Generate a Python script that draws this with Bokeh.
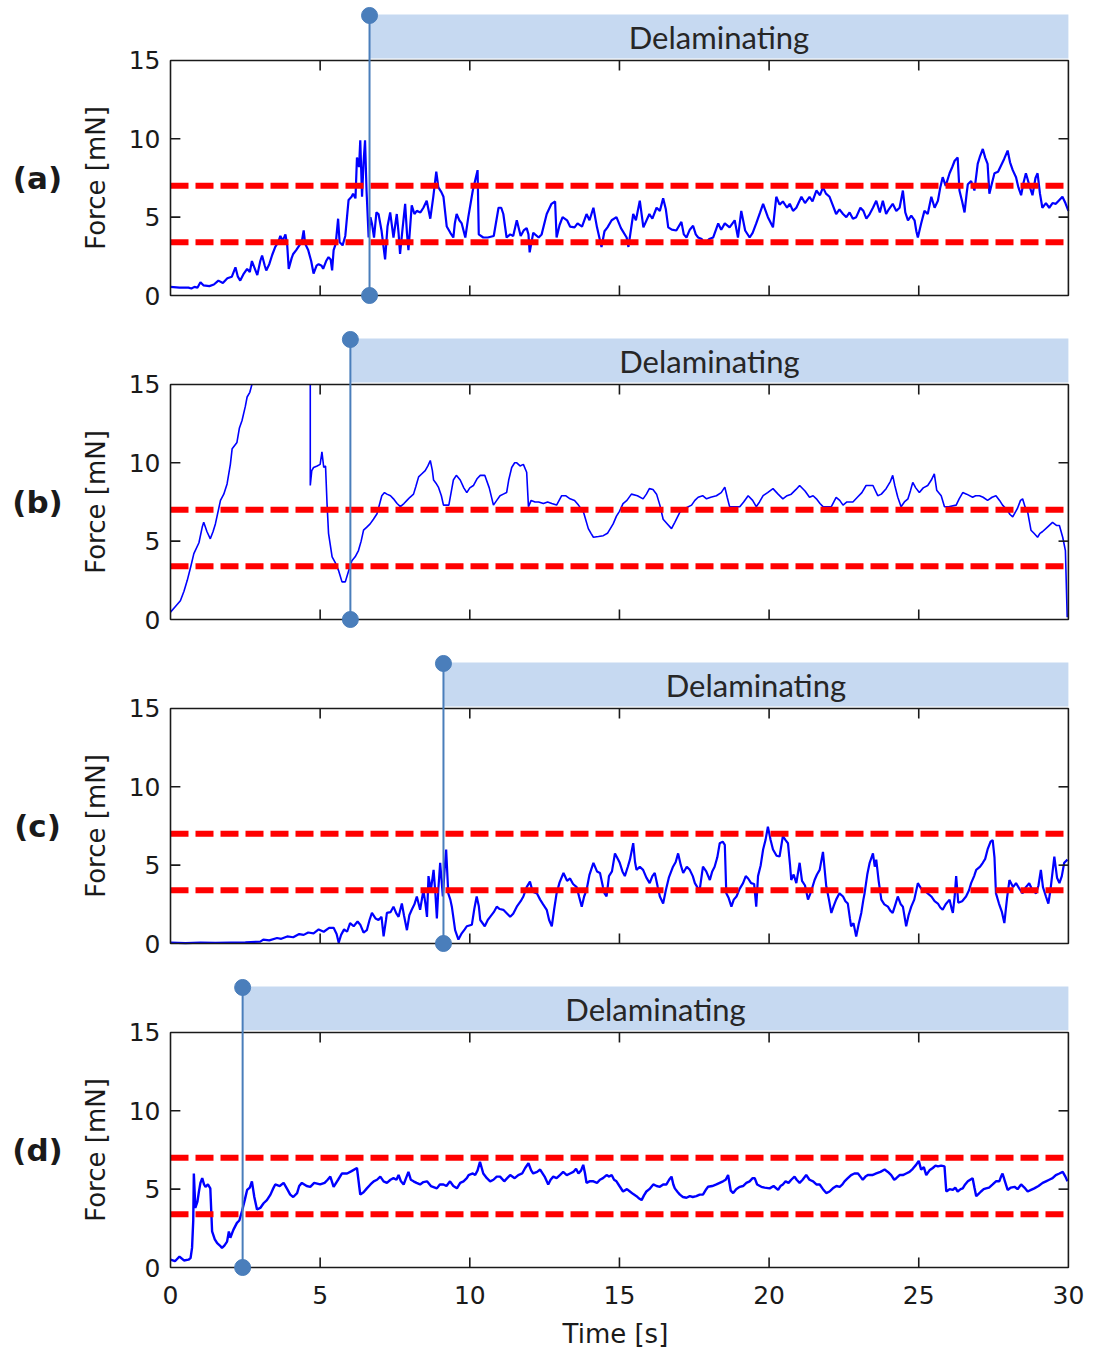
import math
from bokeh.plotting import figure
from bokeh.models import Range1d
from bokeh.layouts import column
from bokeh.embed import file_html
from bokeh.resources import INLINE
from bokeh.core.properties import value

# ---------------- data ----------------
TIME_RANGE = (0, 30)
FORCE_RANGE = (0, 15)
x_ticks = [0, 5, 10, 15, 20, 25, 30]
y_ticks = [0, 5, 10, 15]
thresholds = [7.0, 3.4]
panel_labels = ["(a)", "(b)", "(c)", "(d)"]
delam_start = [6.65, 6.01, 9.12, 2.41]
band_text = "Delaminating"
x_title = "Time [s]"
y_title = "Force [mN]"
NaN = float("nan")

a_t = [0.0,0.3,0.6,0.7,0.8,0.9,1.0,1.1,1.3,1.45,1.6,1.75,1.9,2.05,2.17,2.25,2.33,2.45,2.56,2.65,2.72,2.8,2.9,3.0,3.06,3.15,3.2,3.3,3.4,3.5,3.6,3.67,3.75,3.84,3.9,3.95,4.05,4.1,4.2,4.34,4.4,4.45,4.5,4.6,4.7,4.78,4.88,4.95,5.05,5.1,5.2,5.28,5.35,5.4,5.45,5.52,5.6,5.65,5.75,5.84,5.95,6.05,6.1,6.18,6.23,6.3,6.34,6.4,6.45,6.5,6.55,6.62,6.68,6.73,6.8,6.88,6.95,7.05,7.17,7.25,7.34,7.45,7.56,7.62,7.67,7.75,7.84,7.9,7.95,8.06,8.15,8.23,8.35,8.45,8.56,8.68,8.78,8.88,8.95,9.05,9.12,9.23,9.35,9.45,9.5,9.56,9.65,9.73,9.85,9.95,10.1,10.26,10.3,10.45,10.6,10.8,10.96,11.05,11.12,11.23,11.35,11.45,11.57,11.7,11.8,11.9,11.96,12.0,12.12,12.3,12.4,12.57,12.73,12.85,12.9,13.0,13.1,13.25,13.35,13.5,13.6,13.75,13.9,14.0,14.13,14.25,14.4,14.5,14.6,14.74,14.9,15.05,15.24,15.3,15.46,15.55,15.68,15.8,16.0,16.1,16.24,16.35,16.46,16.55,16.63,16.75,16.9,17.07,17.15,17.24,17.35,17.46,17.55,17.63,17.75,17.85,18.0,18.13,18.3,18.4,18.52,18.68,18.85,18.96,19.07,19.2,19.35,19.45,19.57,19.7,19.8,19.96,20.13,20.24,20.35,20.46,20.6,20.69,20.8,20.91,21.08,21.2,21.35,21.45,21.58,21.7,21.8,21.9,22.02,22.12,22.24,22.35,22.47,22.58,22.69,22.8,22.91,23.05,23.15,23.25,23.36,23.47,23.58,23.7,23.8,23.91,24.0,24.13,24.25,24.36,24.47,24.55,24.64,24.75,24.86,24.92,24.97,25.08,25.19,25.3,25.42,25.53,25.64,25.72,25.8,25.9,26.03,26.12,26.2,26.3,26.36,26.45,26.53,26.6,26.64,26.75,26.86,26.97,27.05,27.14,27.22,27.3,27.36,27.45,27.53,27.65,27.75,27.85,27.97,28.05,28.14,28.25,28.33,28.42,28.5,28.58,28.7,28.8,28.9,28.97,29.05,29.13,29.25,29.36,29.47,29.58,29.7,29.8,29.9,30.0]
a_f = [0.55,0.5,0.5,0.45,0.55,0.5,0.85,0.65,0.6,0.7,0.95,0.8,1.1,1.2,1.8,1.2,0.95,1.4,1.7,1.5,2.2,1.8,1.3,2.2,2.55,1.9,1.6,2.0,2.6,3.1,3.4,3.8,3.5,3.9,3.2,1.7,2.4,2.65,2.9,3.3,3.6,4.15,3.3,2.9,2.2,1.4,1.9,2.0,1.9,1.7,2.2,2.45,2.3,1.6,2.9,3.3,4.9,3.4,3.2,3.8,6.1,6.3,6.5,6.2,8.8,8.2,9.9,6.3,8.5,9.9,6.7,3.7,5.0,4.6,3.7,5.3,5.2,4.15,2.3,4.4,5.3,3.7,5.2,4.0,2.65,4.2,5.85,4.0,2.9,5.75,5.2,5.4,5.3,5.6,6.05,4.9,6.3,7.9,6.9,6.6,6.3,4.4,4.0,3.7,4.6,5.2,4.8,4.6,3.7,5.0,6.7,8.0,3.9,3.7,3.7,3.8,5.6,5.6,5.2,3.7,3.9,3.8,4.8,3.8,4.15,4.3,3.9,2.75,4.0,3.7,3.9,5.2,5.85,6.0,3.7,4.5,5.0,4.8,4.4,4.35,4.6,4.4,5.2,4.8,5.6,4.35,3.1,4.1,4.35,4.8,5.0,4.3,3.7,3.1,5.2,4.8,6.05,4.35,5.2,4.9,5.6,5.4,6.2,5.5,4.35,4.2,4.15,4.7,3.9,3.7,4.2,4.45,3.9,3.7,3.6,3.3,3.6,3.7,4.6,4.2,4.6,4.35,4.8,3.7,5.4,4.15,3.7,4.0,4.6,5.3,5.85,5.0,4.35,6.3,5.8,6.0,5.6,5.85,5.4,5.6,6.3,5.9,6.3,6.0,6.7,6.4,6.9,6.5,6.3,5.8,5.2,5.5,5.2,5.0,5.3,4.9,5.0,5.6,5.4,4.9,5.2,5.6,6.05,5.3,6.05,5.2,5.5,5.85,5.4,5.6,6.7,5.3,4.8,5.1,4.8,4.1,3.7,4.6,5.4,5.2,6.3,5.6,6.05,6.9,7.55,7.0,7.8,8.2,8.6,8.8,6.7,6.0,5.3,6.5,7.1,7.3,6.7,8.4,8.9,9.35,8.8,8.4,6.5,7.2,7.8,7.9,8.3,8.7,9.25,8.5,8.0,7.55,6.9,6.4,7.2,7.8,7.0,6.4,7.5,7.8,6.5,5.6,5.9,5.6,5.9,5.85,6.1,6.3,5.9,5.4]

b_t = [0.0,0.15,0.33,0.45,0.56,0.68,0.78,0.95,1.06,1.11,1.22,1.33,1.42,1.5,1.67,1.78,1.89,2.0,2.06,2.22,2.3,2.39,2.5,2.56,2.65,2.72,3.7,4.67,4.67,4.72,4.78,4.9,5.0,5.06,5.12,5.18,5.23,5.28,5.4,5.5,5.62,5.73,5.84,5.95,6.06,6.17,6.28,6.37,6.45,6.56,6.67,6.78,6.9,7.06,7.15,7.23,7.35,7.45,7.57,7.68,7.8,7.9,8.0,8.12,8.2,8.29,8.4,8.51,8.6,8.68,8.75,8.79,8.87,8.95,9.05,9.12,9.3,9.45,9.55,9.68,9.8,9.9,10.0,10.12,10.25,10.35,10.5,10.65,10.79,10.9,11.01,11.12,11.23,11.3,11.4,11.5,11.57,11.68,11.79,11.9,11.96,12.05,12.18,12.3,12.46,12.6,12.74,12.9,13.07,13.2,13.35,13.5,13.63,13.8,13.96,14.05,14.13,14.3,14.46,14.6,14.79,14.9,15.0,15.12,15.25,15.4,15.6,15.79,15.9,16.0,16.12,16.24,16.35,16.46,16.6,16.74,16.85,17.02,17.2,17.41,17.52,17.63,17.78,17.91,18.05,18.24,18.4,18.52,18.6,18.68,18.85,19.02,19.15,19.3,19.45,19.57,19.68,19.8,19.95,20.13,20.3,20.46,20.6,20.74,20.9,21.02,21.2,21.35,21.47,21.58,21.7,21.8,22.08,22.24,22.36,22.47,22.6,22.8,22.95,23.1,23.24,23.47,23.63,23.75,23.91,24.05,24.13,24.2,24.3,24.41,24.52,24.64,24.72,24.8,24.9,25.02,25.15,25.3,25.42,25.52,25.6,25.75,25.86,26.0,26.25,26.35,26.47,26.6,26.8,26.9,27.03,27.15,27.3,27.45,27.58,27.7,27.8,27.95,28.05,28.14,28.3,28.4,28.47,28.55,28.64,28.75,28.85,28.97,29.05,29.13,29.3,29.47,29.6,29.7,29.81,29.9,29.96]
b_f = [0.47,0.8,1.2,1.8,2.5,3.4,4.2,4.9,5.9,6.2,5.6,5.15,5.6,6.1,7.6,8.0,8.65,9.9,10.9,11.3,12.2,12.7,13.6,14.2,14.5,15.0,NaN,15.0,8.55,9.5,9.7,9.8,9.9,10.7,9.7,9.8,7.4,5.5,4.0,3.65,3.1,2.4,2.4,3.1,3.75,4.0,4.4,5.0,5.7,5.9,6.1,6.4,6.75,7.9,8.1,8.0,7.9,7.7,7.4,7.2,7.4,7.6,7.8,8.0,8.5,9.1,9.3,9.5,9.8,10.15,9.5,8.9,8.7,8.45,7.9,7.3,7.3,8.9,9.2,8.9,8.4,8.1,8.4,8.55,9.0,9.2,9.2,8.4,7.3,7.6,7.9,8.0,8.1,8.9,9.7,10.0,10.0,9.8,9.9,9.4,7.2,7.6,7.5,7.5,7.4,7.5,7.4,7.3,7.9,7.9,7.7,7.6,7.3,6.85,5.8,5.5,5.25,5.3,5.35,5.5,6.1,6.6,6.9,7.4,7.6,8.0,7.9,7.7,8.0,8.35,8.3,8.0,7.3,6.4,6.1,5.8,6.2,6.85,7.1,7.3,7.6,7.8,7.9,7.7,7.8,7.9,8.1,8.45,7.8,7.2,7.2,7.2,7.5,7.9,7.6,7.2,7.5,7.9,8.1,8.35,8.0,7.7,7.9,8.0,8.3,8.55,8.2,7.8,7.9,7.7,7.4,7.2,7.2,7.8,7.6,7.3,7.5,7.5,7.8,8.1,8.55,8.55,7.9,8.0,8.35,8.8,9.2,8.55,7.8,7.2,7.5,7.7,8.2,8.75,8.4,8.1,8.4,8.55,8.9,9.3,8.25,7.9,7.2,7.2,7.3,7.7,8.1,8.0,7.8,7.9,7.9,7.8,7.6,7.8,7.9,7.6,7.3,7.0,6.7,6.55,7.1,7.6,7.7,7.2,6.85,5.7,5.5,5.25,5.5,5.6,5.9,6.2,6.0,6.0,5.25,4.4,0.15]

c_t = [0.0,0.5,1.0,1.5,2.0,2.5,3.0,3.1,3.3,3.56,3.7,3.9,4.1,4.3,4.45,4.6,4.78,4.95,5.12,5.3,5.45,5.55,5.62,5.7,5.8,5.9,6.0,6.12,6.25,6.34,6.45,6.56,6.65,6.73,6.85,6.95,7.05,7.12,7.2,7.23,7.35,7.45,7.55,7.62,7.73,7.8,7.9,7.98,8.06,8.15,8.23,8.34,8.45,8.52,8.57,8.62,8.7,8.79,8.85,8.9,8.95,9.01,9.1,9.15,9.21,9.28,9.35,9.4,9.51,9.62,9.73,9.83,9.9,10.07,10.15,10.23,10.3,10.35,10.5,10.6,10.68,10.8,10.9,11.0,11.12,11.25,11.35,11.45,11.57,11.7,11.79,11.9,12.01,12.1,12.24,12.35,12.45,12.57,12.65,12.74,12.82,12.9,13.0,13.13,13.25,13.35,13.45,13.57,13.65,13.74,13.82,13.9,14.0,14.13,14.25,14.35,14.45,14.5,14.57,14.65,14.75,14.85,14.96,15.01,15.1,15.18,15.28,15.35,15.46,15.52,15.57,15.68,15.79,15.9,16.01,16.1,16.18,16.28,16.35,16.46,16.55,16.65,16.79,16.88,16.96,17.05,17.13,17.25,17.35,17.45,17.52,17.6,17.68,17.79,17.9,18.02,18.1,18.18,18.27,18.35,18.45,18.52,18.57,18.65,18.74,18.82,18.91,19.02,19.13,19.22,19.3,19.4,19.5,19.57,19.63,19.72,19.8,19.88,19.96,20.05,20.13,20.25,20.35,20.46,20.55,20.63,20.7,20.74,20.82,20.91,21.02,21.1,21.2,21.3,21.4,21.52,21.6,21.69,21.8,21.91,22.0,22.08,22.16,22.24,22.35,22.47,22.55,22.63,22.7,22.74,22.82,22.91,23.0,23.08,23.15,23.19,23.28,23.36,23.47,23.53,23.58,23.66,23.75,23.85,23.97,24.05,24.13,24.22,24.3,24.4,24.47,24.58,24.66,24.75,24.85,24.97,25.08,25.19,25.3,25.42,25.53,25.64,25.72,25.8,25.9,26.03,26.1,26.14,26.2,26.25,26.32,26.45,26.58,26.68,26.75,26.85,26.92,27.05,27.14,27.22,27.3,27.4,27.47,27.53,27.58,27.68,27.78,27.86,27.95,28.03,28.15,28.25,28.36,28.47,28.58,28.69,28.8,28.92,29.0,29.08,29.15,29.25,29.33,29.4,29.53,29.62,29.7,29.78,29.86,29.97]
c_f = [0.05,0.03,0.05,0.04,0.06,0.08,0.12,0.25,0.2,0.35,0.3,0.45,0.4,0.6,0.55,0.7,0.65,0.9,0.75,1.0,1.0,0.6,0.05,0.55,0.9,0.75,1.3,1.1,1.4,1.2,0.7,0.85,1.5,1.95,1.6,1.5,1.7,0.45,1.5,1.95,2.0,2.35,1.9,1.7,2.55,1.8,0.85,1.8,2.15,2.5,3.0,2.15,3.4,2.5,1.7,4.3,3.4,4.7,3.2,1.6,3.5,5.15,3.0,4.5,6.0,3.2,2.8,2.35,0.85,0.25,0.65,0.9,1.1,1.2,2.2,3.0,2.4,1.5,1.1,1.5,1.7,2.0,2.35,2.2,2.15,1.9,1.7,1.9,2.35,2.7,3.0,3.6,3.95,3.3,3.2,2.8,2.5,2.15,1.5,1.1,2.2,3.2,3.9,4.5,4.0,4.15,3.8,3.6,3.0,2.35,3.0,3.4,4.4,5.15,4.6,4.5,3.6,3.2,3.0,4.3,4.6,5.75,5.35,5.15,4.6,4.3,4.9,5.35,6.4,5.2,4.7,4.9,4.7,4.2,3.85,4.3,4.5,3.6,3.0,2.55,3.4,4.2,4.9,5.2,5.75,5.0,4.5,4.9,4.7,4.3,3.85,3.6,3.4,4.9,4.6,4.05,4.6,4.9,5.5,6.4,6.5,6.3,3.2,2.9,2.35,2.8,3.0,3.5,3.85,4.3,4.15,3.85,3.8,2.35,4.3,5.0,6.0,6.6,7.45,6.6,6.0,5.6,5.55,6.85,6.6,6.4,5.0,4.05,4.4,3.85,5.15,4.0,3.7,2.8,3.3,4.05,4.4,4.7,5.85,3.65,2.8,1.95,2.4,2.8,3.2,3.0,2.7,2.55,1.6,1.1,1.3,0.45,1.3,1.95,2.8,3.2,4.4,5.15,5.75,4.9,5.35,4.0,2.8,2.5,2.35,2.1,1.95,2.5,3.0,2.5,2.35,1.1,1.8,2.35,2.8,3.85,3.5,3.4,3.2,3.0,2.7,2.55,2.3,2.15,2.5,2.8,2.2,1.95,3.0,4.3,2.6,2.7,3.0,3.4,3.85,4.3,4.7,4.9,5.15,5.4,6.0,6.5,6.6,5.5,3.2,2.55,2.0,1.3,2.9,4.05,3.6,3.85,3.5,3.2,3.6,3.85,3.4,3.2,3.7,4.7,3.6,3.0,2.55,3.4,5.55,4.2,3.85,4.3,5.15,5.35]

d_t = [0.0,0.15,0.3,0.45,0.6,0.67,0.72,0.76,0.78,0.83,0.9,0.95,1.0,1.06,1.12,1.17,1.25,1.33,1.39,1.48,1.56,1.65,1.72,1.8,1.89,1.95,2.0,2.1,2.22,2.3,2.39,2.48,2.56,2.65,2.72,2.8,2.89,3.0,3.11,3.22,3.34,3.42,3.5,3.65,3.78,3.9,4.0,4.1,4.23,4.3,4.39,4.55,4.67,4.8,5.0,5.15,5.25,5.34,5.45,5.6,5.73,5.9,6.05,6.23,6.34,6.45,6.56,6.68,6.79,6.9,7.01,7.12,7.23,7.35,7.45,7.55,7.62,7.7,7.79,7.87,7.95,8.03,8.12,8.22,8.34,8.45,8.57,8.7,8.9,9.0,9.12,9.22,9.34,9.45,9.57,9.68,9.79,9.9,9.96,10.1,10.18,10.26,10.34,10.45,10.57,10.68,10.79,10.9,11.01,11.15,11.25,11.35,11.5,11.62,11.75,11.85,11.96,12.05,12.12,12.25,12.35,12.5,12.62,12.7,12.79,12.9,13.01,13.12,13.24,13.35,13.46,13.55,13.63,13.72,13.79,13.85,13.9,14.0,14.13,14.25,14.35,14.45,14.57,14.66,14.74,14.82,14.9,15.0,15.12,15.25,15.35,15.45,15.57,15.66,15.74,15.82,15.9,16.0,16.13,16.24,16.35,16.46,16.57,16.66,16.74,16.8,16.85,16.95,17.02,17.12,17.24,17.35,17.45,17.57,17.68,17.79,17.9,17.96,18.1,18.24,18.35,18.46,18.55,18.63,18.72,18.8,18.9,19.02,19.13,19.24,19.35,19.45,19.52,19.6,19.74,19.85,20.02,20.15,20.3,20.38,20.46,20.55,20.65,20.74,20.85,20.92,21.02,21.12,21.24,21.35,21.47,21.58,21.69,21.8,21.91,22.02,22.13,22.25,22.36,22.45,22.52,22.63,22.74,22.85,22.97,23.05,23.13,23.22,23.3,23.45,23.58,23.72,23.86,23.97,24.08,24.18,24.25,24.36,24.47,24.58,24.69,24.8,24.91,25.0,25.08,25.17,25.25,25.36,25.47,25.56,25.64,25.75,25.86,25.92,26.03,26.14,26.22,26.3,26.4,26.47,26.55,26.64,26.72,26.8,26.86,26.92,27.0,27.08,27.17,27.25,27.35,27.47,27.58,27.69,27.75,27.8,27.88,27.97,28.08,28.2,28.3,28.42,28.53,28.64,28.75,28.86,29.0,29.14,29.25,29.36,29.47,29.58,29.7,29.81,29.9,29.97]
d_f = [0.5,0.4,0.7,0.45,0.5,0.6,1.25,3.0,6.0,3.8,4.2,4.85,5.4,5.7,5.3,5.15,5.3,5.05,2.3,1.8,1.55,1.4,1.25,1.4,1.65,2.3,1.9,2.4,2.85,3.0,3.6,4.3,4.95,5.1,5.5,4.5,3.7,3.8,4.1,4.3,4.65,5.0,5.3,5.2,5.4,5.0,4.65,4.5,4.75,5.2,5.4,5.2,5.15,5.4,5.3,5.4,5.6,5.8,5.15,5.6,6.0,6.0,6.15,6.35,4.65,4.8,5.05,5.3,5.5,5.6,5.8,5.5,5.4,5.6,5.7,5.6,5.9,5.5,5.3,5.7,6.1,5.6,5.5,5.4,5.3,5.45,5.5,5.2,5.05,5.3,5.3,5.2,5.5,5.2,5.05,5.4,5.5,5.7,5.9,6.0,5.9,6.2,6.75,6.0,5.7,5.5,5.6,5.8,5.8,5.5,5.7,5.9,5.7,5.9,6.0,6.35,6.65,6.2,6.0,6.1,6.25,5.8,5.3,5.6,5.8,5.7,5.9,6.1,5.9,6.0,6.1,6.3,6.0,6.2,6.55,6.0,5.4,5.5,5.5,5.4,5.6,5.7,5.9,5.8,5.9,5.6,5.5,5.2,4.85,5.0,4.85,4.7,4.55,4.4,4.3,4.6,4.85,5.0,5.3,5.2,5.15,5.3,5.3,5.6,5.8,5.3,5.05,4.8,4.65,4.5,4.45,4.55,4.5,4.55,4.65,4.65,5.0,5.15,5.2,5.3,5.4,5.5,5.6,5.9,4.9,4.75,5.0,5.15,5.2,5.4,5.5,5.7,5.7,5.3,5.15,5.1,5.05,5.2,4.95,5.2,5.3,5.5,5.4,5.6,5.8,5.6,5.4,5.6,5.9,5.6,5.5,5.3,5.3,5.0,4.75,4.85,5.05,5.2,5.15,5.3,5.5,5.7,5.9,6.0,6.0,5.8,5.6,5.8,5.9,5.9,6.0,6.1,6.25,6.1,5.9,5.6,5.7,5.9,5.9,6.0,6.1,6.3,6.55,6.8,6.25,6.4,5.9,6.2,6.35,6.5,6.45,6.5,6.45,4.85,5.0,4.95,5.1,4.85,5.0,5.05,5.3,5.5,5.6,5.7,5.1,4.55,4.7,4.85,5.0,5.05,5.1,5.3,5.5,5.5,5.8,6.0,5.5,4.95,5.1,5.15,5.0,5.3,5.1,4.85,4.95,5.05,5.2,5.4,5.5,5.6,5.7,5.9,6.0,6.1,5.8,5.5]

series_t = [a_t, b_t, c_t, d_t]
series_f = [a_f, b_f, c_f, d_f]

# ---------------- style / layout ----------------
BLUE = "#0000ff"
RED = "#ff0000"
MARK = "#4a7ebb"
BAND = "#c6d9f1"
INK = "#1a1a1a"
PX_X = 29.93          # px per second
PX_Y = 15.67          # px per mN
PAGE_W = 1085
ORIGIN_X = 170        # page x of t = 0
ORIGIN_Y = 295        # y-pixel of F = 0 inside each panel canvas
PANEL_H = [324, 324, 324, 378]
BAND_LOW, BAND_HIGH = 15.12, 17.93
MARK_TOP = 17.87
TICK_LEN_X = 0.64
TICK_LEN_Y = 0.33
FONT = "DejaVu Sans"
LINE_W = [2.2, 1.6, 2.2, 2.4]


def make_panel(i):
    last = i == 3
    h = PANEL_H[i]
    xr = Range1d(-ORIGIN_X / PX_X, (PAGE_W - ORIGIN_X) / PX_X)
    yr = Range1d(-(h - ORIGIN_Y) / PX_Y, ORIGIN_Y / PX_Y)
    p = figure(width=PAGE_W, height=h, x_range=xr, y_range=yr,
               output_backend="svg", toolbar_location=None,
               x_axis_location=None, y_axis_location=None,
               min_border_left=0, min_border_right=0, min_border_top=0, min_border_bottom=0,
               outline_line_color=None, background_fill_color="white",
               border_fill_color="white")
    p.grid.grid_line_color = None

    ms = delam_start[i]
    # Delaminating band
    p.quad(left=[ms], right=[TIME_RANGE[1]], bottom=[BAND_LOW], top=[BAND_HIGH],
           fill_color=BAND, line_color=None)
    p.text(x=[(ms + TIME_RANGE[1]) / 2], y=[(BAND_LOW + BAND_HIGH) / 2 - 0.05], text=[band_text],
           text_align="center", text_baseline="middle",
           text_font=value("Lato"), text_font_size=value("31px"), text_color="#262626")

    # signal
    p.line(series_t[i], series_f[i], line_color=BLUE, line_width=LINE_W[i])

    # thresholds
    for thr in thresholds:
        p.segment(x0=[TIME_RANGE[0]], x1=[TIME_RANGE[1]], y0=[thr], y1=[thr],
                  line_color=RED, line_width=6, line_dash="18 7")

    # box + inward ticks
    p.quad(left=[TIME_RANGE[0]], right=[TIME_RANGE[1]], bottom=[FORCE_RANGE[0]],
           top=[FORCE_RANGE[1]], fill_color=None, line_color=INK, line_width=1.6)
    inner_x = x_ticks[1:-1]
    inner_y = y_ticks[1:-1]
    nx, ny = len(inner_x), len(inner_y)
    p.segment(x0=inner_x, x1=inner_x, y0=[FORCE_RANGE[0]] * nx,
              y1=[FORCE_RANGE[0] + TICK_LEN_X] * nx, line_color=INK, line_width=1.6)
    p.segment(x0=inner_x, x1=inner_x, y0=[FORCE_RANGE[1]] * nx,
              y1=[FORCE_RANGE[1] - TICK_LEN_X] * nx, line_color=INK, line_width=1.6)
    p.segment(x0=[TIME_RANGE[0]] * ny, x1=[TIME_RANGE[0] + TICK_LEN_Y] * ny,
              y0=inner_y, y1=inner_y, line_color=INK, line_width=1.6)
    p.segment(x0=[TIME_RANGE[1]] * ny, x1=[TIME_RANGE[1] - TICK_LEN_Y] * ny,
              y0=inner_y, y1=inner_y, line_color=INK, line_width=1.6)

    # y tick labels
    p.text(x=[-10 / PX_X] * len(y_ticks), y=y_ticks, text=[str(v) for v in y_ticks],
           text_align="right", text_baseline="middle",
           text_font=value(FONT), text_font_size=value("25px"), text_color=INK)

    # onset marker
    p.segment(x0=[ms], x1=[ms], y0=[FORCE_RANGE[0]], y1=[MARK_TOP],
              line_color=MARK, line_width=2)
    p.scatter(x=[ms, ms], y=[FORCE_RANGE[0], MARK_TOP], size=16,
              fill_color=MARK, line_color=MARK)

    # side labels
    mid = (FORCE_RANGE[0] + FORCE_RANGE[1]) / 2
    p.text(x=[-75 / PX_X], y=[mid], text=[y_title], angle=math.pi / 2,
           text_align="center", text_baseline="middle",
           text_font=value(FONT), text_font_size=value("26px"), text_color=INK)
    p.text(x=[-133 / PX_X], y=[mid], text=[panel_labels[i]],
           text_align="center", text_baseline="middle",
           text_font=value(FONT), text_font_size=value("31px"),
           text_font_style="bold", text_color=INK)

    if last:
        p.text(x=x_ticks, y=[-27 / PX_Y] * len(x_ticks), text=[str(v) for v in x_ticks],
               text_align="center", text_baseline="middle",
               text_font=value(FONT), text_font_size=value("25px"), text_color=INK)
        p.text(x=[(TIME_RANGE[0] + TIME_RANGE[1]) / 2 - 4 / PX_X], y=[-66 / PX_Y], text=[x_title],
               text_align="center", text_baseline="middle",
               text_font=value(FONT), text_font_size=value("26px"), text_color=INK)
    return p


panels = [make_panel(i) for i in range(4)]
layout = column(*panels, spacing=0)
open("out.html", "w").write(file_html(layout, INLINE))
